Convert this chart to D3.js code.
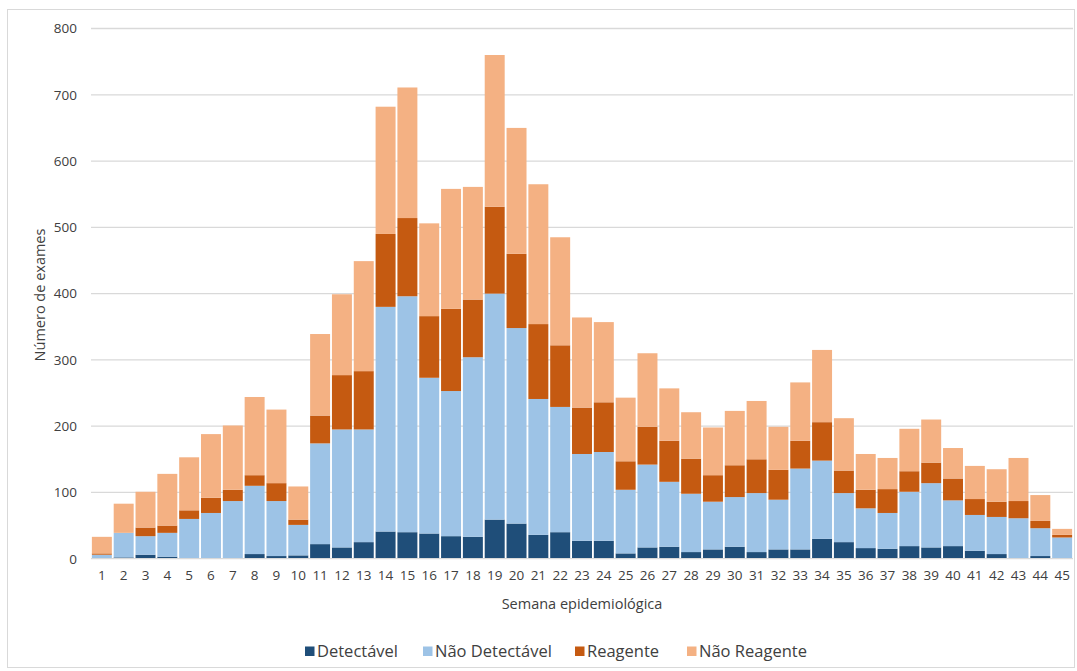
<!DOCTYPE html>
<html>
<head>
<meta charset="utf-8">
<script src="https://cdn.jsdelivr.net/npm/d3@7"></script>
<style>
  html, body { margin: 0; padding: 0; background: #fff; }
  svg { display: block; font-family: "Open Sans", "Noto Sans", sans-serif; }
</style>
</head>
<body>
<svg id="chart" width="1077" height="671"></svg>
<script>
// Epidemiological weeks 1..45
const weeks = d3.range(1, 46).map(String);

// Exam counts per week, by result
const detectavel = [1, 2, 6, 3, 1, 1, 1, 7, 4, 5, 22, 17, 25, 41, 40, 38, 34, 33, 59, 53, 36, 40, 27, 27, 8, 17, 18, 10, 14, 18, 10, 14, 14, 30, 25, 16, 15, 19, 17, 19, 12, 7, 1, 4, 0];
const naoDetectavel = [5, 37, 28, 36, 59, 68, 86, 103, 83, 46, 152, 178, 170, 339, 356, 235, 219, 271, 341, 295, 205, 189, 131, 134, 96, 125, 98, 88, 72, 75, 89, 75, 122, 118, 74, 60, 54, 82, 97, 69, 54, 56, 60, 42, 32];
const reagente = [2, 0, 13, 11, 13, 23, 17, 16, 27, 8, 42, 82, 88, 110, 118, 93, 124, 87, 131, 112, 113, 93, 70, 75, 43, 57, 62, 53, 40, 48, 51, 45, 42, 58, 34, 28, 36, 31, 31, 33, 24, 23, 26, 11, 4];
const naoReagente = [25, 44, 54, 78, 80, 96, 97, 118, 111, 50, 123, 122, 166, 192, 197, 140, 181, 170, 229, 190, 211, 163, 136, 121, 96, 111, 79, 70, 72, 82, 88, 65, 88, 109, 79, 54, 47, 64, 65, 46, 50, 49, 65, 39, 9];

const seriesNames = ["Detectável", "Não Detectável", "Reagente", "Não Reagente"];
const seriesColors = ["#1f4e79", "#9dc3e6", "#c55a11", "#f4b183"];
const yTicks = [0, 100, 200, 300, 400, 500, 600, 700, 800];

const rows = weeks.map((w, i) => ({
  week: w,
  "Detectável": detectavel[i],
  "Não Detectável": naoDetectavel[i],
  "Reagente": reagente[i],
  "Não Reagente": naoReagente[i]
}));

const svg = d3.select("#chart");
const plot = { left: 91, right: 1073, top: 28.5, bottom: 558.7 };

// outer frame
svg.append("rect")
  .attr("x", 7.5).attr("y", 9.5)
  .attr("width", 1067).attr("height", 658)
  .attr("fill", "#fff").attr("stroke", "#d9d9d9").attr("stroke-width", 1);

const x = d3.scaleBand().domain(weeks).range([plot.left, plot.right]).paddingInner(0.085).paddingOuter(0.04);
const y = d3.scaleLinear().domain([0, 800]).range([plot.bottom, plot.top]);

// gridlines
svg.append("g")
  .selectAll("line")
  .data(yTicks.filter(t => t > 0))
  .join("line")
  .attr("x1", plot.left).attr("x2", plot.right)
  .attr("y1", d => y(d)).attr("y2", d => y(d))
  .attr("stroke", "#d9d9d9").attr("stroke-width", 1.3);

// stacked bars
const stack = d3.stack().keys(seriesNames)(rows);
const color = d3.scaleOrdinal().domain(seriesNames).range(seriesColors);

svg.append("g")
  .selectAll("g")
  .data(stack)
  .join("g")
  .attr("fill", d => color(d.key))
  .selectAll("rect")
  .data(d => d)
  .join("rect")
  .attr("x", d => x(d.data.week))
  .attr("width", x.bandwidth())
  .attr("y", d => y(d[1]))
  .attr("height", d => Math.max(0, y(d[0]) - y(d[1])));

// baseline
svg.append("line")
  .attr("x1", plot.left).attr("x2", plot.right)
  .attr("y1", y(0)).attr("y2", y(0))
  .attr("stroke", "#d9d9d9").attr("stroke-width", 1.3);

// y axis labels
const yAxis = d3.axisLeft(y).tickValues(yTicks).tickSize(0).tickPadding(0);
const gy = svg.append("g").attr("transform", `translate(77,0)`).call(yAxis);
gy.select(".domain").remove();
gy.selectAll("text")
  .attr("fill", "#404040").attr("font-size", 13.5)
  .attr("font-family", "\"Open Sans\", \"Noto Sans\", sans-serif");

// x axis labels
const xAxis = d3.axisBottom(x).tickSize(0).tickPadding(0);
const gx = svg.append("g").attr("transform", `translate(0,${y(0) + 12})`).call(xAxis);
gx.select(".domain").remove();
gx.selectAll("text")
  .attr("fill", "#404040").attr("font-size", 13.5)
  .attr("font-family", "\"Open Sans\", \"Noto Sans\", sans-serif");

// axis titles
svg.append("text")
  .attr("x", 582).attr("y", 609)
  .attr("text-anchor", "middle")
  .attr("fill", "#404040").attr("font-size", 14.5)
  .text("Semana epidemiológica");

svg.append("text")
  .attr("transform", `translate(45,295) rotate(-90)`)
  .attr("text-anchor", "middle")
  .attr("fill", "#404040").attr("font-size", 14.5)
  .text("Número de exames");

// legend
const legendX = [305, 423, 575, 687];
const legend = svg.append("g");
seriesNames.forEach((name, i) => {
  legend.append("rect")
    .attr("x", legendX[i]).attr("y", 646.5)
    .attr("width", 9.5).attr("height", 9.5)
    .attr("fill", seriesColors[i]);
  legend.append("text")
    .attr("x", legendX[i] + 12).attr("y", 656.5)
    .attr("fill", "#404040").attr("font-size", 16.5)
    .text(name);
});
</script>
</body>
</html>
